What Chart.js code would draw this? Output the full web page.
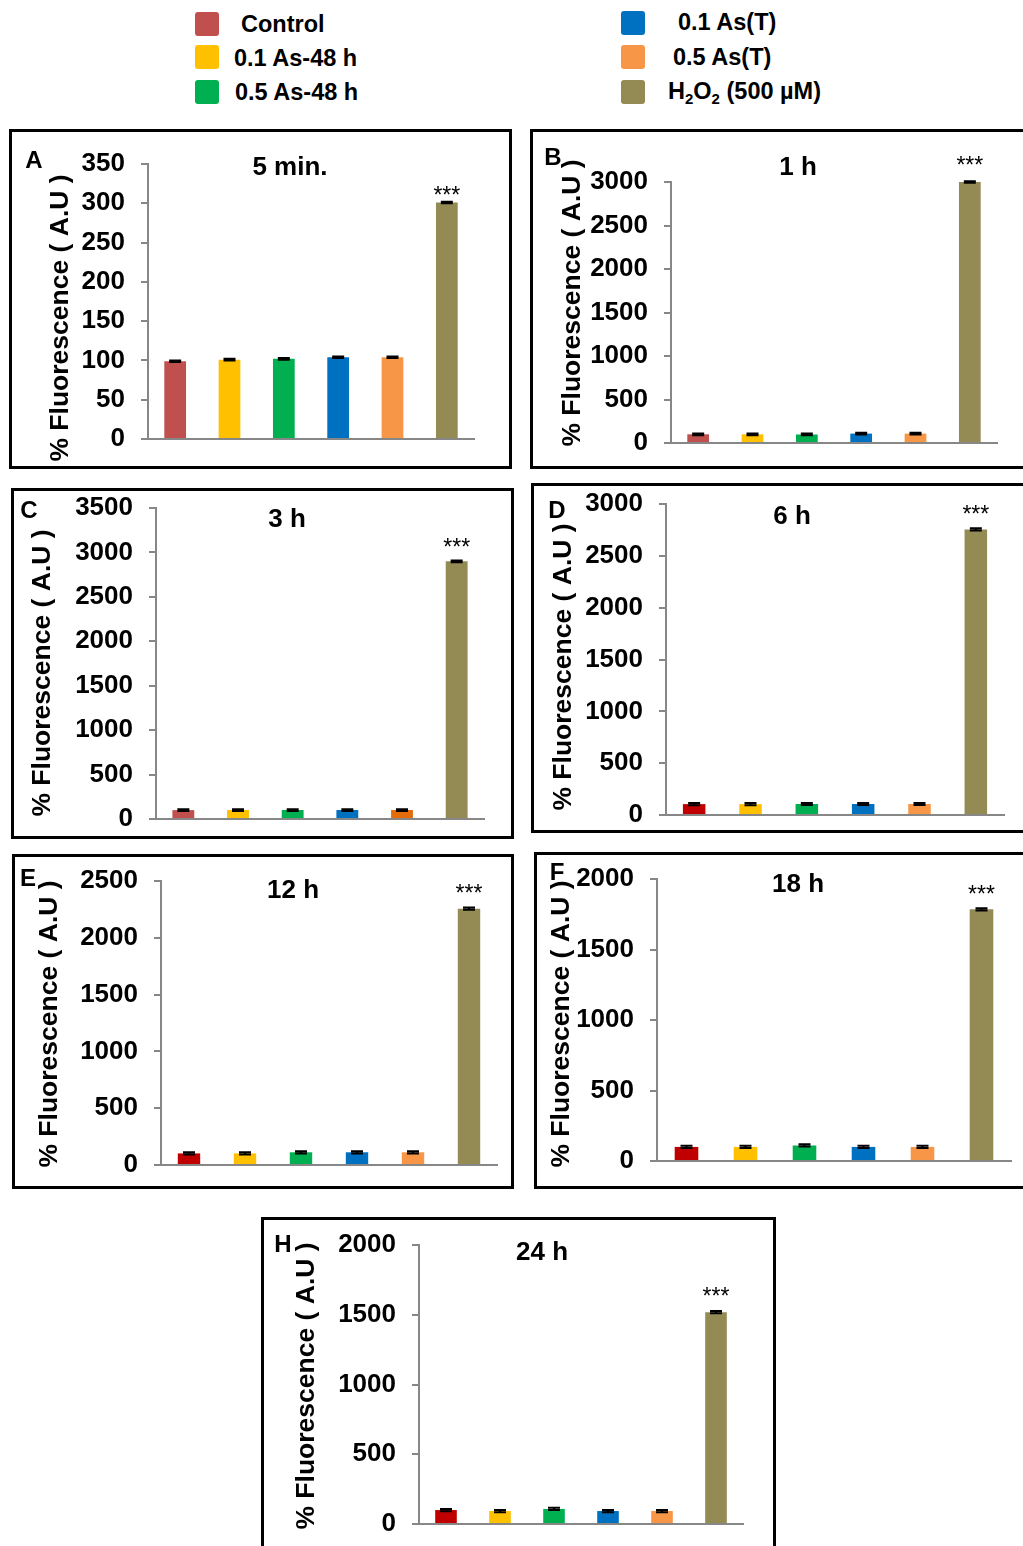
<!DOCTYPE html>
<html>
<head>
<meta charset="utf-8">
<script src="https://cdn.jsdelivr.net/npm/chart.js@4.4.1/dist/chart.umd.min.js"></script>
<style>
  body { margin: 0; width: 1023px; height: 1546px; overflow: hidden; background: #fff; position: relative;
         font-family: 'Liberation Sans', Arial, sans-serif; }
  .box { position: absolute; border: 3px solid #000; box-sizing: border-box; pointer-events: none; }
  canvas.panel { position: absolute; }
  .sw { position: absolute; width: 24px; height: 24px; border-radius: 3px; }
  .lt { position: absolute; font-size: 23.5px; font-weight: bold; line-height: 1; white-space: nowrap; transform: translateY(-50%); }
</style>
</head>
<body>

<div id="legend"></div>

<script>
// Categories (treatments)
const categories = ['Control', '0.1 As-48 h', '0.5 As-48 h', '0.1 As(T)', '0.5 As(T)', 'H2O2 (500 µM)'];

// % Fluorescence (A.U) per time point
const values5min = [99, 101, 102, 104, 104, 301];
const values1h   = [100, 100, 98, 108, 108, 3000];
const values3h   = [100, 101, 101, 101, 101, 2900];
const values6h   = [105, 105, 106, 106, 106, 2755];
const values12h  = [102, 102, 112, 112, 112, 2256];
const values18h  = [100, 100, 110, 100, 100, 1785];
const values24h  = [100, 93, 108, 93, 93, 1518];

// Error bars (SD), tiny in every panel
const errors5min = [1, 1, 1, 1, 1, 1];
const errors1h   = [10, 10, 10, 10, 10, 10];
const errors3h   = [10, 10, 10, 10, 10, 10];
const errors6h   = [10, 10, 10, 10, 10, 10];
const errors12h  = [10, 10, 10, 10, 10, 10];
const errors18h  = [8, 8, 8, 8, 8, 8];
const errors24h  = [8, 8, 8, 8, 8, 8];

// Axis ranges and titles
const panelTitles  = ['5 min.', '1 h', '3 h', '6 h', '12 h', '18 h', '24 h'];
const panelLetters = ['A', 'B', 'C', 'D', 'E', 'F', 'H'];
const yMax  = [350, 3000, 3500, 3000, 2500, 2000, 2000];
const yStep = [50, 500, 500, 500, 500, 500, 500];
const panelValues = [values5min, values1h, values3h, values6h, values12h, values18h, values24h];
const panelErrors = [errors5min, errors1h, errors3h, errors6h, errors12h, errors18h, errors24h];

// Colours
const colorsLight = ['#C0504D', '#FFC000', '#00B050', '#0070C0', '#F79646', '#948A54'];
const colorsDarkOrange = ['#C0504D', '#FFC000', '#00B050', '#0070C0', '#E46C0A', '#948A54'];
const colorsDarkRed = ['#C00000', '#FFC000', '#00B050', '#0070C0', '#F79646', '#948A54'];
const panelColors = [colorsLight, colorsLight, colorsDarkOrange, colorsDarkRed, colorsDarkRed, colorsDarkRed, colorsDarkRed];

// Legend
const legendColors = ['#C0504D', '#FFC000', '#00B050', '#0070C0', '#F79646', '#948A54'];
const legendLabels = ['Control', '0.1 As-48 h', '0.5 As-48 h', '0.1 As(T)', '0.5 As(T)', 'H<sub style="font-size:15px">2</sub>O<sub style="font-size:15px">2</sub> (500 µM)'];

// Page layout (pixels): box = [x, y, w, h], area = [left, top, right, bottom]
const legendLayout = [
    { sw: [195, 12], text: [241, 25] },
    { sw: [195, 45], text: [234, 59] },
    { sw: [195, 80], text: [235, 93] },
    { sw: [621, 11], text: [678, 23] },
    { sw: [621, 45], text: [673, 58] },
    { sw: [621, 80], text: [668, 93] }
];
const panelLayout = [
    { box: [9, 129, 503, 340],   area: [148, 164, 474, 439],  title: [290, 168],  letter: [34, 161],  ytitle: [61, 318],   star: 10 },
    { box: [530, 129, 503, 340], area: [671, 182, 997, 443],  title: [798, 168],  letter: [553, 158], ytitle: [573, 303],  star: 19 },
    { box: [11, 488, 503, 351],  area: [156, 508, 484, 819],  title: [287, 520],  letter: [29, 511],  ytitle: [43, 673],   star: 17 },
    { box: [531, 483, 502, 350], area: [666, 504, 1004, 815], title: [792, 517],  letter: [557, 511], ytitle: [564, 667],  star: 18 },
    { box: [12, 854, 502, 335],  area: [161, 881, 497, 1165], title: [293, 891],  letter: [28, 879],  ytitle: [50, 1024],  star: 18 },
    { box: [534, 852, 499, 337], area: [657, 879, 1011, 1161], title: [798, 885], letter: [557, 873], ytitle: [562, 1024], star: 18 },
    { box: [261, 1217, 515, 340], area: [419, 1245, 743, 1524], title: [542, 1253], letter: [283, 1245], ytitle: [307, 1386], star: 19 }
];

const FONT = "'Liberation Sans', Arial, sans-serif";
const AXIS_GRAY = '#878787';
Chart.defaults.font.family = FONT;

// Build the legend
function buildLegend() {
    const legend = document.getElementById('legend');
    legendLayout.forEach((pos, i) => {
        const sw = document.createElement('div');
        sw.className = 'sw';
        sw.style.left = pos.sw[0] + 'px';
        sw.style.top = pos.sw[1] + 'px';
        sw.style.background = legendColors[i];
        legend.appendChild(sw);

        const lt = document.createElement('div');
        lt.className = 'lt';
        lt.style.left = pos.text[0] + 'px';
        lt.style.top = pos.text[1] + 'px';
        lt.innerHTML = legendLabels[i];
        legend.appendChild(lt);
    });
}

// Plugin that draws error bars, stars, title, panel letter and y title
function decorations(idx) {
    const lay = panelLayout[idx];
    const ox = lay.box[0], oy = lay.box[1];
    return {
        id: 'deco' + idx,
        afterDatasetsDraw(chart) {
            const ctx = chart.ctx;
            const y = chart.scales.y;
            const bars = chart.getDatasetMeta(0).data;
            const vals = panelValues[idx];
            const errs = panelErrors[idx];
            ctx.save();
            ctx.strokeStyle = '#000';
            ctx.lineWidth = 2;
            bars.forEach((bar, i) => {
                const top = y.getPixelForValue(vals[i] + errs[i]);
                const bot = y.getPixelForValue(vals[i] - errs[i]);
                ctx.beginPath();
                ctx.moveTo(bar.x, top);
                ctx.lineTo(bar.x, bot);
                ctx.moveTo(bar.x - 6, top);
                ctx.lineTo(bar.x + 6, top);
                ctx.moveTo(bar.x - 6, bot);
                ctx.lineTo(bar.x + 6, bot);
                ctx.stroke();
            });
            // significance stars over H2O2 bar
            const last = bars[bars.length - 1];
            ctx.fillStyle = '#000';
            ctx.font = '23px ' + FONT;
            ctx.textAlign = 'center';
            ctx.textBaseline = 'middle';
            ctx.fillText('***', last.x, last.y - lay.star + 4);
            ctx.restore();
        },
        afterDraw(chart) {
            const ctx = chart.ctx;
            ctx.save();
            ctx.fillStyle = '#000';
            ctx.textAlign = 'center';
            ctx.textBaseline = 'middle';

            ctx.font = 'bold 26px ' + FONT;
            ctx.fillText(panelTitles[idx], lay.title[0] - ox, lay.title[1] - oy);

            ctx.font = 'bold 24px ' + FONT;
            ctx.fillText(panelLetters[idx], lay.letter[0] - ox, lay.letter[1] - oy);

            ctx.translate(lay.ytitle[0] - ox, lay.ytitle[1] - oy);
            ctx.rotate(-Math.PI / 2);
            ctx.font = 'bold 26.5px ' + FONT;
            ctx.fillText('% Fluorescence ( A.U )', 0, 0);
            ctx.restore();
        }
    };
}

function makePanel(idx) {
    const lay = panelLayout[idx];
    const [bx, by, bw, bh] = lay.box;
    const [al, at, ar, ab] = lay.area;

    const canvas = document.createElement('canvas');
    canvas.className = 'panel';
    canvas.width = bw;
    canvas.height = bh;
    canvas.style.left = bx + 'px';
    canvas.style.top = by + 'px';
    document.body.appendChild(canvas);

    const box = document.createElement('div');
    box.className = 'box';
    box.style.left = bx + 'px';
    box.style.top = by + 'px';
    box.style.width = bw + 'px';
    box.style.height = bh + 'px';
    document.body.appendChild(box);

    const yAxisWidth = al - bx;

    new Chart(canvas.getContext('2d'), {
        type: 'bar',
        data: {
            labels: categories,
            datasets: [{
                data: panelValues[idx],
                backgroundColor: panelColors[idx],
                borderWidth: 0,
                barPercentage: 0.4,
                categoryPercentage: 1.0
            }]
        },
        options: {
            responsive: false,
            animation: false,
            devicePixelRatio: 1,
            layout: {
                padding: { left: 0, top: at - by, right: bx + bw - ar, bottom: by + bh - ab }
            },
            plugins: {
                legend: { display: false },
                tooltip: { enabled: false },
                title: { display: false }
            },
            scales: {
                x: {
                    grid: { display: false },
                    border: { display: true, color: AXIS_GRAY, width: 2 },
                    ticks: { display: false },
                    afterFit: (scale) => { scale.height = 0; }
                },
                y: {
                    min: 0,
                    max: yMax[idx],
                    ticks: {
                        stepSize: yStep[idx],
                        color: '#000',
                        padding: 16,
                        font: { size: 26, weight: 'bold', family: FONT, lineHeight: 1 },
                        callback: (value) => String(value)
                    },
                    grid: {
                        display: true,
                        drawOnChartArea: false,
                        drawTicks: true,
                        tickLength: 7,
                        color: AXIS_GRAY,
                        lineWidth: 2
                    },
                    border: { display: true, color: AXIS_GRAY, width: 2 },
                    afterFit: (scale) => {
                        scale.width = yAxisWidth;
                        scale.paddingTop = 0;
                        scale.paddingBottom = 0;
                    }
                }
            }
        },
        plugins: [decorations(idx)]
    });
}

document.addEventListener('DOMContentLoaded', function() {
    buildLegend();
    for (let i = 0; i < panelLayout.length; i++) {
        makePanel(i);
    }
});
</script>
</body>
</html>
